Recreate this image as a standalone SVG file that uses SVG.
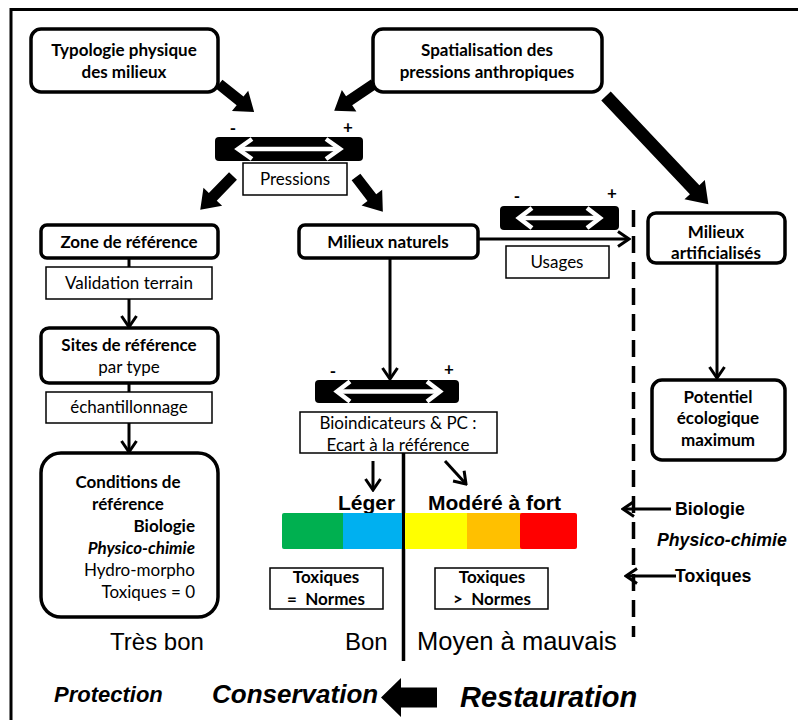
<svg xmlns="http://www.w3.org/2000/svg" width="798" height="720" viewBox="0 0 798 720">
<style>
.box{fill:#fff;stroke:#000;stroke-width:3.5}
.lbl{fill:#fff;stroke:#000;stroke-width:1.5}
.c{font-family:Lato,"Liberation Sans",sans-serif;fill:#000;font-size:17px}
.b{font-weight:bold}
.a{font-family:"Liberation Sans",Arial,sans-serif;fill:#000}
.line{stroke:#000;stroke-width:3;fill:none}
.blk{fill:#000}
.wa{stroke:#fff;stroke-width:4.5;fill:none}
.mid{text-anchor:middle}
.end{text-anchor:end}
</style>
<defs>
<marker id="ah" viewBox="0 0 14 18" refX="12" refY="9" markerWidth="14" markerHeight="18" markerUnits="userSpaceOnUse" orient="auto">
<path d="M1,1.5 L12,9 L1,16.5" fill="none" stroke="#000" stroke-width="3"/>
</marker>
</defs>
<rect width="798" height="720" fill="#fff"/>
<path d="M11,720 V9.5 H798" fill="none" stroke="#000" stroke-width="3"/>

<g id="connectors">
<path class="blk" transform="translate(219,84) rotate(38.66)" d="M0,-5.5 L27,-5.5 L27,-13 L45,0 L27,13 L27,5.5 L0,5.5 Z"/>
<path class="blk" transform="translate(374,84) rotate(146)" d="M0,-5.5 L30,-5.5 L30,-13 L48,0 L30,13 L30,5.5 L0,5.5 Z"/>
<path class="blk" transform="translate(233,176) rotate(134.15)" d="M0,-5.5 L29,-5.5 L29,-13 L47,0 L29,13 L29,5.5 L0,5.5 Z"/>
<path class="blk" transform="translate(356,177) rotate(52.4)" d="M0,-5.5 L26,-5.5 L26,-13 L44,0 L26,13 L26,5.5 L0,5.5 Z"/>
<path class="blk" transform="translate(606,96) rotate(46.6)" d="M0,-6.5 L129,-6.5 L129,-14 L149,0 L129,14 L129,6.5 L0,6.5 Z"/>
<path class="blk" d="M381,697.5 L401,678 L401,687.5 L437,687.5 L437,707.5 L401,707.5 L401,717 Z"/>
<line class="line" x1="129" y1="258" x2="129" y2="267"/>
<line class="line" x1="129" y1="299" x2="129" y2="327" marker-end="url(#ah)"/>
<line class="line" x1="129" y1="383" x2="129" y2="392"/>
<line class="line" x1="129" y1="423" x2="129" y2="452" marker-end="url(#ah)"/>
<line class="line" x1="390" y1="258" x2="390" y2="379" marker-end="url(#ah)"/>
<line class="line" x1="478" y1="239" x2="629" y2="239" marker-end="url(#ah)"/>
<line class="line" x1="717" y1="263" x2="717" y2="378" marker-end="url(#ah)"/>
<line class="line" x1="373" y1="461" x2="373" y2="490" marker-end="url(#ah)"/>
<line class="line" x1="445" y1="461" x2="466" y2="484" marker-end="url(#ah)"/>
<line class="line" x1="671" y1="509" x2="623" y2="509" marker-end="url(#ah)"/>
<line class="line" x1="676" y1="576" x2="626" y2="576" marker-end="url(#ah)"/>
<line x1="403.5" y1="453" x2="403.5" y2="661" stroke="#000" stroke-width="3.5"/>
<line x1="633.5" y1="210" x2="633.5" y2="637" stroke="#000" stroke-width="3.5" stroke-dasharray="17 9"/>
</g>

<g id="typologie">
<rect class="box" x="31" y="29" width="187" height="63" rx="10"/>
<text class="c b mid" x="124" y="56">Typologie physique</text>
<text class="c b mid" x="124" y="78">des milieux</text>
</g>
<g id="spatialisation">
<rect class="box" x="373" y="29" width="229" height="63" rx="10"/>
<text class="c b mid" x="487" y="56">Spatialisation des</text>
<text class="c b mid" x="487" y="78">pressions anthropiques</text>
</g>

<g id="slider-pressions">
<rect class="blk" x="215" y="137" width="148" height="24" rx="4"/>
<line class="wa" x1="238" y1="149" x2="340" y2="149"/>
<polyline class="wa" points="252,139 238,149 252,159"/>
<polyline class="wa" points="326,139 340,149 326,159"/>
<text class="c b mid" x="233" y="134" font-size="15">-</text>
<text class="c b mid" x="348" y="133" font-size="15">+</text>
</g>
<g id="pressions">
<rect class="lbl" x="243" y="163" width="104" height="32"/>
<text class="c mid" x="295" y="185">Pressions</text>
</g>

<g id="zone-reference">
<rect class="box" x="41" y="225" width="177" height="33" rx="6"/>
<text class="c b mid" x="129" y="248">Zone de référence</text>
</g>
<g id="validation">
<rect class="lbl" x="46" y="267" width="166" height="32"/>
<text class="c mid" x="129" y="289">Validation terrain</text>
</g>
<g id="sites-reference">
<rect class="box" x="41" y="328" width="177" height="55" rx="8"/>
<text class="c b mid" x="129" y="351">Sites de référence</text>
<text class="c mid" x="129" y="373">par type</text>
</g>
<g id="echantillonnage">
<rect class="lbl" x="46" y="392" width="166" height="31"/>
<text class="c mid" x="129" y="413">échantillonnage</text>
</g>
<g id="conditions">
<rect class="box" x="41" y="453" width="177" height="164" rx="20"/>
<text class="c b mid" x="128" y="488">Conditions de</text>
<text class="c b mid" x="128" y="510">référence</text>
<text class="c b end" x="195" y="532">Biologie</text>
<text class="c b end" x="195" y="554" font-style="italic">Physico-chimie</text>
<text class="c end" x="195" y="576">Hydro-morpho</text>
<text class="c end" x="195" y="598">Toxiques = 0</text>
</g>

<g id="milieux-naturels">
<rect class="box" x="299" y="225" width="179" height="33" rx="6"/>
<text class="c b mid" x="388" y="248">Milieux naturels</text>
</g>
<g id="slider-usages">
<rect class="blk" x="500" y="206" width="119" height="24" rx="4"/>
<line class="wa" x1="519" y1="218" x2="600" y2="218"/>
<polyline class="wa" points="532,208 519,218 532,228"/>
<polyline class="wa" points="587,208 600,218 587,228"/>
<text class="c b mid" x="517" y="202" font-size="15">-</text>
<text class="c b mid" x="612" y="199" font-size="15">+</text>
</g>
<g id="usages">
<rect class="lbl" x="506" y="246" width="103" height="32"/>
<text class="c mid" x="557" y="268">Usages</text>
</g>

<g id="slider-ecart">
<rect class="blk" x="315" y="380" width="144" height="23" rx="4"/>
<line class="wa" x1="337" y1="391.5" x2="440" y2="391.5"/>
<polyline class="wa" points="350,381.5 337,391.5 350,401.5"/>
<polyline class="wa" points="427,381.5 440,391.5 427,401.5"/>
<text class="c b mid" x="333" y="377" font-size="15">-</text>
<text class="c b mid" x="449" y="375" font-size="15">+</text>
</g>
<g id="bioindicateurs">
<rect class="lbl" x="300" y="412" width="197" height="41"/>
<text class="c mid" x="398" y="429">Bioindicateurs &amp; PC :</text>
<text class="c mid" x="398" y="451">Ecart à la référence</text>
</g>

<g id="milieux-artificialises">
<rect class="box" x="648" y="213" width="137" height="50" rx="8"/>
<text class="c b mid" x="716" y="238">Milieux</text>
<text class="c b mid" x="716" y="259">artificialisés</text>
</g>
<g id="potentiel">
<rect class="box" x="652" y="380" width="133" height="80" rx="10"/>
<text class="c b mid" x="718" y="403">Potentiel</text>
<text class="c b mid" x="718" y="424">écologique</text>
<text class="c b mid" x="718" y="446">maximum</text>
</g>

<g id="echelle">
<text class="a b" x="338" y="510" font-size="21">Léger</text>
<text class="a b" x="428" y="510" font-size="21">Modéré à fort</text>
<rect x="282" y="513" width="64" height="36" rx="2" fill="#00B050"/>
<rect x="343" y="513" width="59" height="36" fill="#00B0F0"/>
<rect x="405" y="513" width="62" height="36" fill="#FFFF00"/>
<rect x="467" y="513" width="56" height="36" fill="#FFC000"/>
<rect x="520" y="513" width="57" height="36" rx="2" fill="#FF0000"/>
<rect x="523" y="513" width="4" height="36" fill="#FF0000"/>
</g>

<g id="toxiques-normes">
<rect class="lbl" x="270" y="568" width="113" height="41"/>
<text class="c b mid" x="326" y="583">Toxiques</text>
<text class="c b mid" x="326" y="605" xml:space="preserve">=  Normes</text>
</g>
<g id="toxiques-sup-normes">
<rect class="lbl" x="435" y="568" width="113" height="41"/>
<text class="c b mid" x="492" y="583">Toxiques</text>
<text class="c b mid" x="492" y="605" xml:space="preserve">&gt;  Normes</text>
</g>

<g id="legende-droite">
<text class="a b" x="675" y="515" font-size="17.7">Biologie</text>
<text class="a b" x="657" y="546" font-size="17.7" font-style="italic">Physico-chimie</text>
<text class="a b" x="675" y="582" font-size="17.7">Toxiques</text>
</g>

<g id="etats">
<text class="a mid" x="157" y="650" font-size="24">Très bon</text>
<text class="a" x="345" y="650" font-size="24">Bon</text>
<text class="a" x="417" y="650" font-size="25.5">Moyen à mauvais</text>
</g>

<g id="actions">
<text class="a b" x="54" y="702" font-size="22" font-style="italic">Protection</text>
<text class="a b" x="212" y="703" font-size="26" font-style="italic">Conservation</text>
<text class="a b" x="460" y="707" font-size="29" font-style="italic">Restauration</text>
</g>
</svg>
